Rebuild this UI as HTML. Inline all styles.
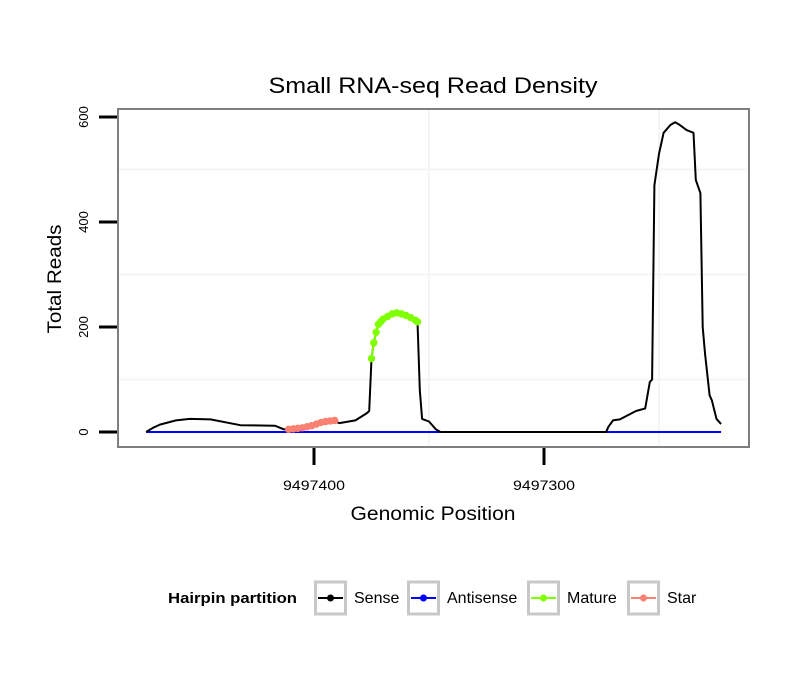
<!DOCTYPE html>
<html><head><meta charset="utf-8"><style>
html,body{margin:0;padding:0;background:#fff;}
svg{display:block;font-family:"Liberation Sans",sans-serif;}
</style></head><body>
<svg id="chart" width="810" height="690" viewBox="0 0 810 690">
<text x="433" y="93" text-anchor="middle" font-size="22" textLength="329" lengthAdjust="spacingAndGlyphs">Small RNA-seq Read Density</text>
<g id="grid"></g>
<g id="series"></g>
<rect x="118" y="109" width="631" height="338" fill="none" stroke="#7f7f7f" stroke-width="2"/>
<g id="axes"></g>
<text transform="translate(61,279) rotate(-90)" text-anchor="middle" font-size="19" textLength="109" lengthAdjust="spacingAndGlyphs">Total Reads</text>
<text x="433" y="520" text-anchor="middle" font-size="19" textLength="165" lengthAdjust="spacingAndGlyphs">Genomic Position</text>
<g id="legend">
<text x="168" y="603" font-size="15" font-weight="bold" textLength="129" lengthAdjust="spacingAndGlyphs">Hairpin partition</text>
</g>
</svg>
<script>
const sensePos = [9497473,9497470,9497467,9497460,9497454,9497445,9497432,9497417,9497413,9497411,9497406,9497400,9497391,9497389,9497382,9497377,9497376,9497375,9497374,9497373,9497372,9497371,9497370,9497368,9497366,9497364,9497362,9497360,9497358,9497356,9497355,9497354,9497353,9497350,9497347,9497345,9497273,9497272,9497270,9497267,9497260,9497256,9497254,9497253,9497252,9497251,9497250,9497248,9497245,9497243,9497241,9497238,9497235,9497234,9497232,9497231,9497230,9497228,9497227,9497225,9497223];
const senseVal = [0,8,14,22,25,24,13,12,5,5,8,12,20,17,22,36,40,140,170,190,205,210,215,220,225,227,225,222,218,213,210,80,25,20,5,0,0,10,22,24,40,45,95,100,470,500,530,570,585,590,585,575,570,480,455,200,150,70,60,25,15];
const antiPos = [9497473,9497223];
const antiVal = [0,0];
const maturePos = [9497375,9497374,9497373,9497372,9497371,9497370,9497368,9497366,9497364,9497362,9497360,9497358,9497356,9497355];
const matureVal = [140,170,190,205,210,215,220,225,227,225,222,218,213,210];
const starPos = [9497411,9497409,9497407,9497405,9497403,9497401,9497399,9497397,9497395,9497393,9497391];
const starVal = [5,6,7,8,10,12,15,18,20,21,22];
const yTicks = [0,200,400,600];
const xTicks = [9497400,9497300];
const xMinor = [9497350,9497250];
const yMinor = [100,300,500];
const legendLabels = ["Sense","Antisense","Mature","Star"];
const legendColors = ["#000000","#0000ff","#7fff00","#fa8072"];

const NS="http://www.w3.org/2000/svg";
function xs(p){return 314-(p-9497400)*2.3;}
function ys(v){return 432-v*0.525;}
function mk(tag,attrs,parent){const e=document.createElementNS(NS,tag);for(const k in attrs)e.setAttribute(k,attrs[k]);parent.appendChild(e);return e;}
const grid=document.getElementById('grid'),series=document.getElementById('series'),axes=document.getElementById('axes'),legend=document.getElementById('legend');
yMinor.forEach(v=>{const l=mk('line',{x1:119,x2:748,y1:ys(v),y2:ys(v),stroke:'#f5f5f5','stroke-width':2},grid);

});
xMinor.forEach(p=>{const l=mk('line',{x1:xs(p),x2:xs(p),y1:110,y2:446,stroke:'#f5f5f5','stroke-width':2},grid);

});
function path(pos,val){return pos.map((p,i)=>(i?'L':'M')+xs(p).toFixed(1)+','+ys(val[i]).toFixed(1)).join('');}
const anti=mk('path',{d:path(antiPos,antiVal),stroke:'#0000ff','stroke-width':2,fill:'none'},series);


const sense=mk('path',{d:path(sensePos,senseVal),stroke:'#000','stroke-width':2,fill:'none','stroke-linejoin':'round'},series);


[[starPos,starVal,'#fa8072','star'],[maturePos,matureVal,'#7fff00','mature']].forEach(([P,V,c,n])=>{
 const l=mk('path',{d:path(P,V),stroke:c,'stroke-width':2,fill:'none'},series);
 
 
 P.forEach((p,i)=>{const pt=mk('circle',{cx:xs(p),cy:ys(V[i]),r:3.7,fill:c},series);
 
 });
});
yTicks.forEach(v=>{const t=mk('line',{x1:99,x2:117,y1:ys(v),y2:ys(v),stroke:'#000','stroke-width':3},axes);


const tx=mk('text',{transform:`translate(88,${ys(v)}) rotate(-90)`,'text-anchor':'middle','font-size':13},axes);tx.textContent=v;

});
xTicks.forEach(p=>{const t=mk('line',{x1:xs(p),x2:xs(p),y1:448,y2:465,stroke:'#000','stroke-width':3},axes);


const tx=mk('text',{x:xs(p),y:490,'text-anchor':'middle','font-size':14,textLength:62,lengthAdjust:'spacingAndGlyphs'},axes);tx.textContent=p;

});
const boxX=[314,407,527,627];
legendLabels.forEach((lab,i)=>{const x=boxX[i];
 const r=mk('rect',{x:x+1.5,y:582,width:30,height:32,fill:'#fff',stroke:'#c8c8c8','stroke-width':3},legend);
 
 
 mk('line',{x1:x+4,x2:x+29,y1:598,y2:598,stroke:legendColors[i],'stroke-width':2},legend);
 mk('circle',{cx:x+16.5,cy:598,r:3.5,fill:legendColors[i]},legend);
 const t=mk('text',{x:x+40,y:603,'font-size':16},legend);t.textContent=lab;
 
 
});
</script>
</body></html>
